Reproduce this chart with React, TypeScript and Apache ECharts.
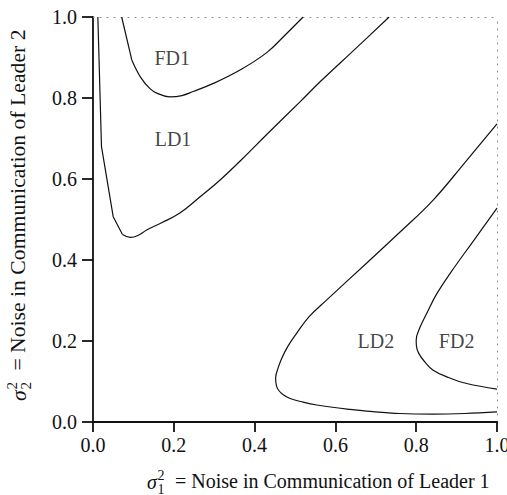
import React, { useEffect, useRef } from "react";
import * as echarts from "echarts";

// ---- data ----
const xTicks = [0, 0.2, 0.4, 0.6, 0.8, 1.0];
const yTicks = [0, 0.2, 0.4, 0.6, 0.8, 1.0];

// first points of LD1 / FD1 form straight segments, the rest is a smooth curve
const ld1Curve: [number, number][] = [
  [0.012, 1.0], [0.021, 0.68], [0.05, 0.507], [0.073, 0.463], [0.092, 0.456],
  [0.11, 0.46], [0.133, 0.474], [0.17, 0.492], [0.215, 0.516], [0.26, 0.552],
  [0.314, 0.597], [0.37, 0.65], [0.43, 0.71], [0.513, 0.791], [0.562, 0.84],
  [0.65, 0.922], [0.733, 1.0],
];
const ld1Corners = 4;

const fd1Curve: [number, number][] = [
  [0.071, 1.0], [0.096, 0.894], [0.118, 0.851], [0.141, 0.823], [0.158, 0.812],
  [0.19, 0.803], [0.22, 0.806], [0.248, 0.816], [0.298, 0.836], [0.364, 0.869],
  [0.43, 0.912], [0.475, 0.955], [0.52, 1.0],
];
const fd1Corners = 2;

const ld2Curve: [number, number][] = [
  [1.0, 0.736], [0.92, 0.64], [0.842, 0.548], [0.76, 0.469], [0.677, 0.392],
  [0.578, 0.301], [0.535, 0.26], [0.504, 0.219], [0.483, 0.188], [0.467, 0.157],
  [0.457, 0.13], [0.452, 0.108], [0.454, 0.09], [0.459, 0.079], [0.47, 0.068],
  [0.488, 0.058], [0.52, 0.049], [0.554, 0.042], [0.636, 0.031], [0.677, 0.027],
  [0.76, 0.021], [0.842, 0.0195], [0.92, 0.021], [1.0, 0.025],
];

const fd2Curve: [number, number][] = [
  [1.0, 0.528], [0.94, 0.445], [0.884, 0.367], [0.85, 0.315], [0.826, 0.268],
  [0.81, 0.235], [0.8, 0.202], [0.801, 0.185], [0.806, 0.17], [0.82, 0.15],
  [0.842, 0.128], [0.88, 0.11], [0.925, 0.095], [1.0, 0.081],
];

const regionNames = ["FD1", "LD1", "LD2", "FD2"];
const regionX = [0.196, 0.198, 0.7, 0.9];
const regionY = [0.899, 0.698, 0.201, 0.201];

const xTitleMain = "= Noise in Communication of Leader 1";
const yTitleMain = "= Noise in Communication of Leader 2";

const FONT = '"Liberation Serif", "DejaVu Serif", serif';
const INK = "#111111";

function titleGroup(
  main: string,
  sub: string,
  x: number,
  y: number,
  rotation: number,
  scaleX: number
) {
  const t = (text: string, tx: number, ty: number, font: string) => ({
    type: "text",
    x: tx,
    y: ty,
    style: { text, font, fill: INK, align: "left", verticalAlign: "middle" },
  });
  return {
    type: "group",
    x,
    y,
    rotation,
    scaleX,
    children: [
      t("σ", 0, 1, `italic 20px ${FONT}`),
      t("2", 10.5, -6, `14px ${FONT}`),
      t(sub, 10.5, 8, `14px ${FONT}`),
      t(main, 28, 0, `20px ${FONT}`),
    ],
  };
}

export default function App() {
  const ref = useRef<HTMLDivElement>(null);

  useEffect(() => {
    if (!ref.current) return;
    const chart = echarts.init(ref.current, null, { renderer: "svg" });

    const lineStyle = { color: INK, width: 1.2 };
    const curve = (data: [number, number][], smooth: number | boolean) => ({
      type: "line",
      data,
      showSymbol: false,
      symbol: "none",
      smooth,
      lineStyle,
      xAxisIndex: 0,
      yAxisIndex: 0,
      silent: true,
    });

    const tickFormatter = (ticks: number[]) => (v: number) => {
      const i = ticks.findIndex((t) => Math.abs(t - v) < 1e-9);
      return i >= 0 ? ticks[i].toFixed(1) : "";
    };

    const option: any = {
      animation: false,
      backgroundColor: "#ffffff",
      grid: {
        left: 93,
        top: 17,
        right: 10,
        bottom: 73,
        containLabel: false,
        outerBoundsMode: "none",
      },
      xAxis: [
        {
          type: "value",
          min: 0,
          max: 1,
          interval: 0.2,
          position: "bottom",
          axisLine: { show: true, onZero: false, lineStyle: { color: INK, width: 1.8 } },
          axisTick: { show: true, length: 10, lineStyle: { color: INK, width: 1.8 } },
          axisLabel: {
            show: true,
            margin: 13,
            fontSize: 20,
            fontFamily: FONT,
            color: INK,
            formatter: tickFormatter(xTicks),
          },
          splitLine: { show: false },
        },
        {
          type: "value",
          min: 0,
          max: 1,
          position: "top",
          axisLine: { show: true, onZero: false, lineStyle: { color: "#8a8a8a", width: 1, type: [1, 6] } },
          axisTick: { show: false },
          axisLabel: { show: false },
          splitLine: { show: false },
        },
      ],
      yAxis: [
        {
          type: "value",
          min: 0,
          max: 1,
          interval: 0.2,
          position: "left",
          axisLine: { show: true, onZero: false, lineStyle: { color: INK, width: 1.8 } },
          axisTick: { show: true, length: 11, lineStyle: { color: INK, width: 1.8 } },
          axisLabel: {
            show: true,
            margin: 16,
            fontSize: 20,
            fontFamily: FONT,
            color: INK,
            formatter: tickFormatter(yTicks),
          },
          splitLine: { show: false },
        },
        {
          type: "value",
          min: 0,
          max: 1,
          position: "right",
          axisLine: { show: true, onZero: false, lineStyle: { color: "#8a8a8a", width: 1, type: [1, 6] } },
          axisTick: { show: false },
          axisLabel: { show: false },
          splitLine: { show: false },
        },
      ],
      series: [
        curve(ld1Curve.slice(0, ld1Corners), false),
        curve(ld1Curve.slice(ld1Corners - 1), 0.4),
        curve(fd1Curve.slice(0, fd1Corners), false),
        curve(fd1Curve.slice(fd1Corners - 1), 0.4),
        curve(ld2Curve, 0.4),
        curve(fd2Curve, 0.4),
        {
          type: "scatter",
          xAxisIndex: 0,
          yAxisIndex: 0,
          symbolSize: 0.001,
          silent: true,
          data: regionNames.map((n, i) => ({ name: n, value: [regionX[i], regionY[i]] })),
          label: {
            show: true,
            position: "inside",
            formatter: "{b}",
            fontSize: 20,
            fontFamily: FONT,
            color: INK,
          },
        },
      ],
      graphic: [
        titleGroup(xTitleMain, "1", 147, 481, 0, 1),
        titleGroup(yTitleMain, "2", 18, 401, Math.PI / 2, 1.085),
      ],
    };

    chart.setOption(option);
    return () => chart.dispose();
  }, []);

  return (
    <div
      ref={ref}
      style={{ position: "fixed", left: 0, top: 0, width: 507, height: 495, background: "#fff" }}
    />
  );
}
